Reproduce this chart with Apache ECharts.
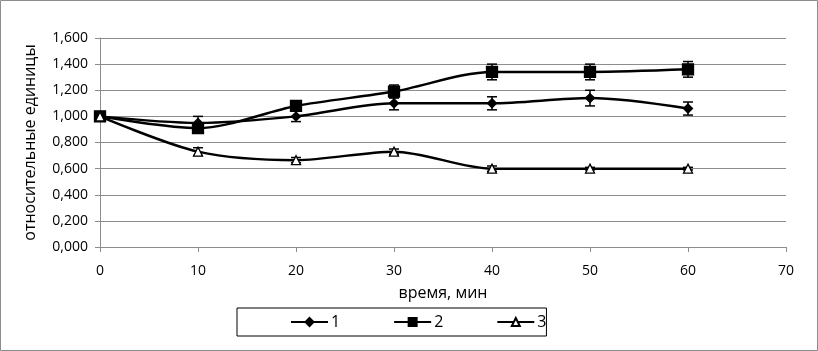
<!DOCTYPE html>
<html><head><meta charset="utf-8">
<script src="https://cdn.jsdelivr.net/npm/echarts@6/dist/echarts.min.js"></script>
<style>html,body{margin:0;padding:0;background:#fff}#c{width:818px;height:351px}</style>
</head><body><div id="c"></div>
<script>
const times = [0, 10, 20, 30, 40, 50, 60];
const s1 = [1.00, 0.95, 1.00, 1.10, 1.10, 1.14, 1.06];
const s1err = [0.02, 0.05, 0.04, 0.05, 0.05, 0.06, 0.05];
const s2 = [1.00, 0.91, 1.08, 1.19, 1.34, 1.34, 1.36];
const s2err = [0.02, 0.03, 0.03, 0.05, 0.06, 0.06, 0.06];
const s3 = [1.00, 0.73, 0.665, 0.73, 0.60, 0.60, 0.60];
const s3err = [0.02, 0.03, 0.02, 0.02, 0.02, 0.01, 0.01];
const names = ['1', '2', '3'];
const FONT = 'Open Sans';

function errSeries(vals, errs) {
  return {
    type: 'custom',
    silent: true,
    z: 3,
    data: times.map((t, i) => [t, vals[i] - errs[i], vals[i] + errs[i]]),
    renderItem: function (params, api) {
      const lo = api.coord([api.value(0), api.value(1)]);
      const hi = api.coord([api.value(0), api.value(2)]);
      const w = 5;
      const st = { stroke: '#000', lineWidth: 1.5 };
      return { type: 'group', children: [
        { type: 'line', shape: { x1: lo[0], y1: lo[1], x2: hi[0], y2: hi[1] }, style: st },
        { type: 'line', shape: { x1: lo[0] - w, y1: lo[1], x2: lo[0] + w, y2: lo[1] }, style: st },
        { type: 'line', shape: { x1: hi[0] - w, y1: hi[1], x2: hi[0] + w, y2: hi[1] }, style: st }
      ]};
    }
  };
}
function lineSeries(name, vals, symbol, size, fill) {
  return {
    name: name, type: 'line', smooth: 0.3, z: 4,
    data: times.map((t, i) => [t, vals[i]]),
    symbol: symbol, symbolSize: size, showSymbol: true,
    lineStyle: { color: '#000', width: 2.5 },
    itemStyle: { color: fill, borderColor: '#000', borderWidth: 1.3 }
  };
}
const chart = echarts.init(document.getElementById('c'));
chart.setOption({
  animation: false,
  backgroundColor: '#fff',
  graphic: [{ type: 'rect', shape: { x: 0.5, y: 0.5, width: 817, height: 350 }, style: { fill: 'none', stroke: '#8c8c8c', lineWidth: 1 }, silent: true }],
  grid: { left: 100, right: 32, top: 38, bottom: 104 },
  xAxis: {
    type: 'value', min: 0, max: 70, interval: 10,
    name: 'время, мин', nameLocation: 'middle', nameGap: 38,
    nameTextStyle: { fontFamily: FONT, fontSize: 16, color: '#000' },
    axisLine: { onZero: false, lineStyle: { color: '#8c8c8c' } },
    axisTick: { show: true, length: 5, lineStyle: { color: '#8c8c8c' } },
    axisLabel: { fontFamily: FONT, fontSize: 14, color: '#000', margin: 17 },
    splitLine: { show: false }
  },
  yAxis: {
    type: 'value', min: 0, max: 1.6, interval: 0.2,
    name: 'относительные единицы', nameLocation: 'middle', nameGap: 62, nameRotate: 90,
    nameTextStyle: { fontFamily: FONT, fontSize: 16, color: '#000' },
    axisLine: { show: true, lineStyle: { color: '#8c8c8c' } },
    axisTick: { show: true, length: 5, lineStyle: { color: '#8c8c8c' } },
    axisLabel: { fontFamily: FONT, fontSize: 14, color: '#000', margin: 12,
      formatter: v => v.toFixed(3).replace('.', ',') },
    splitLine: { lineStyle: { color: '#8c8c8c' } }
  },
  legend: {
    data: names, left: 237, top: 308, width: 363, height: 29,
    padding: [6, 0, 6, 53], itemGap: 53, itemWidth: 37, itemHeight: 10,
    borderColor: '#000', borderWidth: 1, backgroundColor: '#fff',
    textStyle: { fontFamily: FONT, fontSize: 16, color: '#000', padding: [0, 0, 0, -2] }
  },
  series: [
    errSeries(s1, s1err), errSeries(s2, s2err), errSeries(s3, s3err),
    lineSeries(names[0], s1, 'diamond', 9, '#000'),
    lineSeries(names[1], s2, 'rect', 11, '#000'),
    lineSeries(names[2], s3, 'triangle', 9, '#fff')
  ]
});
</script></body></html>
